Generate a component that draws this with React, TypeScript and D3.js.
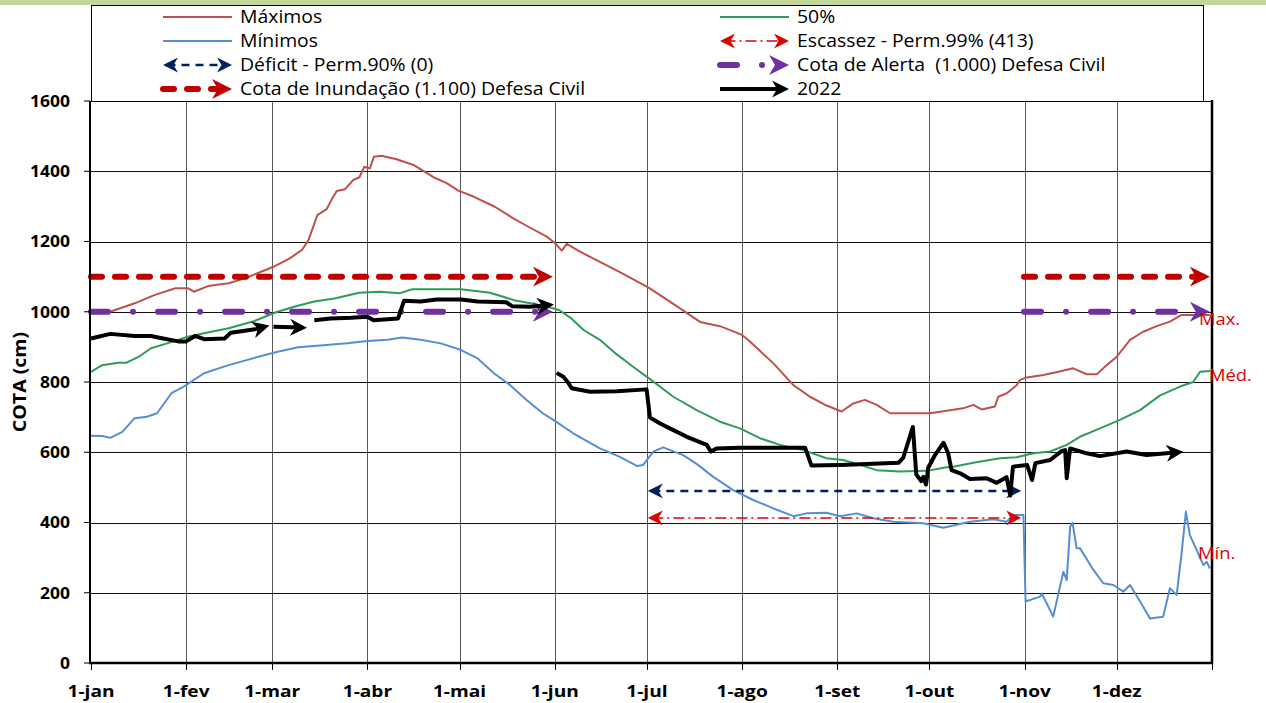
import React, { useEffect, useRef } from 'react';
import * as d3 from 'd3';

// x = day of year (0 = 1-jan), y = cota (cm)
const maximos: [number, number][] = [
  [0, 995], [6.2, 1000], [14.2, 1024], [20.8, 1048], [27.5, 1067], [31.5, 1067], [33.5, 1057], [38.1, 1073],
  [44.8, 1081], [50.1, 1095], [55.4, 1114], [59.4, 1128], [64.7, 1152], [68.7, 1176], [70.8, 1204], [73.7, 1275],
  [76.7, 1292], [78.4, 1320], [80, 1344], [82.7, 1349], [85.4, 1375], [87.4, 1383], [89, 1413], [90.8, 1408],
  [92.1, 1441], [94.6, 1444], [99.5, 1434], [105, 1418], [111.5, 1383], [115.8, 1366], [119.6, 1345], [124.5, 1328],
  [131.5, 1299], [137.5, 1266], [142.4, 1242], [148.4, 1214], [151.1, 1195], [153.3, 1174], [154.9, 1193],
  [159.2, 1171], [165.7, 1142], [172.2, 1113], [181.7, 1068], [190.2, 1019], [198.3, 971], [204.8, 959], [212, 934],
  [213.9, 920], [222.2, 853], [228.7, 791], [234.1, 758], [239.5, 733], [244.4, 716], [248.2, 739], [252, 749],
  [255.8, 735], [260.2, 711], [273.2, 711], [284, 725], [287.3, 735], [290, 722], [294.3, 730], [295.4, 758],
  [298.2, 768], [301.4, 791], [302.5, 806], [304.7, 813], [310.1, 820], [315, 829], [319.8, 839], [324.2, 822],
  [327.5, 822], [330.7, 848], [334, 872], [338.3, 920], [342.6, 943], [347, 959], [351.3, 972], [355.1, 991],
  [360, 991], [364.3, 991],
];

const mediana: [number, number][] = [
  [0, 829], [3.6, 848], [8.9, 855], [11.6, 855], [15.6, 872], [19.5, 896], [24.8, 910], [31.5, 929], [36.8, 939],
  [44.8, 953], [52.7, 972], [60.7, 1000], [66.1, 1014], [72.7, 1029], [79.3, 1038], [87.3, 1054], [94, 1057],
  [100.6, 1053], [104.6, 1064], [113.9, 1064], [120.5, 1064], [129.9, 1054], [137.8, 1033], [143.1, 1024],
  [148.5, 1014], [152.4, 1005], [156.4, 981], [160.4, 948], [165.7, 920], [171, 880], [176.4, 844], [183.1, 801],
  [189.6, 758], [197.2, 720], [204.8, 687], [211.3, 668], [217.8, 640], [224.3, 621], [231.9, 606], [239.5, 583],
  [244.9, 578], [250.4, 564], [255.8, 549], [263.4, 545], [272.1, 547], [278.6, 557], [280.8, 559], [287.3, 570],
  [296, 583], [301.4, 586], [306.8, 597], [312.3, 602], [317.7, 621], [322, 644], [328.5, 668], [335, 692],
  [341.6, 720], [348.1, 762], [354.6, 787], [358.9, 800], [361.1, 829], [364.4, 831],
];

const minimos: [number, number][] = [
  [0, 647], [3.6, 646], [6.3, 641], [10.2, 658], [14.2, 697], [18.2, 701], [21.5, 711], [26.2, 768], [30.2, 787],
  [36.8, 825], [44.8, 848], [55.4, 874], [60.8, 886], [67.4, 899], [76.7, 905], [83.4, 910], [90, 917], [96.6, 920],
  [101.3, 927], [107.3, 920], [113.9, 910], [120.5, 891], [125.9, 867], [131.2, 825], [136.5, 791], [141.8, 749],
  [147.1, 711], [151.4, 687], [157, 654], [165.7, 611], [172.2, 587], [177.7, 561], [179.8, 564], [183.1, 602],
  [186.3, 614], [192.8, 592], [197.2, 567], [202.6, 530], [209.1, 492], [215.6, 464], [222.2, 440], [228.7, 418],
  [233, 426], [239.5, 428], [243.9, 418], [249.3, 426], [254.7, 412], [261.2, 402], [271, 398], [277.5, 385],
  [286.2, 402], [293.8, 409], [298.1, 402], [300.3, 421], [303.6, 421], [304.3, 175], [309, 189], [309.6, 198],
  [313.3, 132], [316.6, 260], [317.7, 236], [318.8, 388], [319.6, 399], [320.9, 327], [322, 327], [326.4, 265],
  [329.6, 227], [332.9, 222], [336.1, 203], [338.3, 222], [341.6, 175], [344.8, 127], [349.1, 132], [351.3, 213],
  [353.5, 194], [355.1, 312], [356.5, 431], [357.8, 364], [362.2, 279], [363.3, 288], [364.3, 269],
];

// 2022, drawn in separate pieces, each ending with an arrow
const ano2022: [number, number][][] = [
  [[0, 924], [6.3, 937], [14.2, 931], [19.5, 931], [23.5, 924], [28.8, 915], [30.8, 915], [33.9, 931], [36.8, 922],
    [43.5, 924], [45.5, 940], [50.1, 946], [53.4, 950], [56.5, 957]],
  [[59.4, 957], [68.7, 955]],
  [[72.7, 976], [78, 981], [84.7, 983], [90, 986], [92, 976], [100, 981], [101.9, 1031], [107.3, 1029],
    [112.6, 1035], [120.5, 1035], [125.9, 1029], [135.2, 1027], [137.1, 1016], [143.1, 1014], [149.1, 1019]],
  [[151.6, 826], [153.8, 815], [155.4, 798], [156.5, 782], [162.5, 772], [171.2, 774], [180.9, 779], [182, 699],
    [185.3, 682], [189.6, 663], [194, 644], [200.5, 621], [201.8, 602], [203.7, 611], [211.3, 613], [222.2, 613],
    [232.5, 613], [234.6, 562], [243.9, 564], [254.7, 567], [262.9, 570], [264.5, 585], [267.6, 672], [268.7, 537],
    [270.3, 518], [271, 530], [271.9, 508], [272.6, 556], [274.8, 592], [277.6, 627], [279.1, 597], [280.2, 549],
    [283, 540], [286.2, 524], [291.6, 526], [294.9, 513], [298.1, 529], [299.3, 477], [300.2, 559], [304.8, 564],
    [306.4, 521], [307.5, 569], [312.3, 578], [316.1, 604], [317.2, 606], [317.7, 526], [318.8, 611], [324.2, 597],
    [328.5, 589], [337.2, 602], [343.7, 592], [350.2, 597], [354, 600]],
];

// reference levels and the day spans they cover
const cotaInundacao = 1100;
const cotaAlerta = 1000;
const cotaDeficit = 490;
const cotaEscassez = 413;
const defesaSpans: [number, number][] = [[0, 150.4], [303.8, 364.3]];
const estiagemSpan: [number, number] = [181.3, 302.9];

const monthDays = [0, 31, 59, 90, 120, 151, 181, 212, 243, 273, 304, 334];
const monthLabels = ['1-jan', '1-fev', '1-mar', '1-abr', '1-mai', '1-jun', '1-jul', '1-ago', '1-set', '1-out', '1-nov', '1-dez'];
const yTicks = [0, 200, 400, 600, 800, 1000, 1200, 1400, 1600];

const legendLeft = ['Máximos', 'Mínimos', 'Déficit - Perm.90% (0)', 'Cota de Inundação (1.100) Defesa Civil'];
const legendRight = ['50%', 'Escassez - Perm.99% (413)', 'Cota de Alerta  (1.000) Defesa Civil', '2022'];

const FONT = "'Open Sans', Lato, sans-serif";

type Style = {
  color: string;
  width: number;
  dash?: string;
  cap?: string;
  arrow?: string;
  arrowSize?: number;
  both?: boolean;
};

const S: Record<string, Style> = {
  max: { color: '#c0504d', width: 2 },
  min: { color: '#558ed5', width: 2 },
  med: { color: '#2f9b5c', width: 2 },
  deficit: { color: '#002060', width: 2.5, dash: '8 6', arrow: 'arNavy', arrowSize: 15, both: true },
  escassez: { color: '#e00000', width: 1.6, dash: '11 4 2 4', arrow: 'arRed2', arrowSize: 15, both: true },
  inund: { color: '#c00000', width: 6, dash: '11 13', cap: 'round', arrow: 'arRed', arrowSize: 20 },
  alerta: { color: '#7030a0', width: 6, dash: '17 25 0.01 25', cap: 'round', arrow: 'arPurple', arrowSize: 20 },
  y2022: { color: '#000000', width: 4, arrow: 'arBlack', arrowSize: 17 },
};

export default function App() {
  const svgRef = useRef<SVGSVGElement>(null);

  useEffect(() => {
    if (!svgRef.current) return;
    const svg = d3.select(svgRef.current);
    svg.selectAll('*').remove();

    const x = d3.scaleLinear().domain([0, 365]).range([91, 1212]);
    const y = d3.scaleLinear().domain([0, 1600]).range([663, 101]);

    const defs = svg.append('defs');
    const addMarker = (id: string, color: string, size: number) => {
      defs.append('marker')
        .attr('id', id)
        .attr('viewBox', '0 0 10 10')
        .attr('refX', 7)
        .attr('refY', 5)
        .attr('markerWidth', size)
        .attr('markerHeight', size)
        .attr('markerUnits', 'userSpaceOnUse')
        .attr('orient', 'auto-start-reverse')
        .append('path')
        .attr('d', 'M0,0 L10,5 L0,10 L3,5 Z')
        .attr('fill', color);
    };
    addMarker('arNavy', S.deficit.color, S.deficit.arrowSize!);
    addMarker('arRed2', S.escassez.color, S.escassez.arrowSize!);
    addMarker('arRed', S.inund.color, S.inund.arrowSize!);
    addMarker('arPurple', S.alerta.color, S.alerta.arrowSize!);
    addMarker('arBlack', S.y2022.color, S.y2022.arrowSize!);

    // text slightly stretched sideways, like the original
    const label = (g: any, tx: number, ty: number, str: string, size: number, opts: any = {}) => {
      const t = g.append('text')
        .attr('transform', `translate(${tx},${ty}) ${opts.rotate ? 'rotate(-90) ' : ''}scale(${opts.sx || 1.1},1)`)
        .attr('dy', '0.36em')
        .attr('text-anchor', opts.anchor || 'start')
        .attr('font-family', FONT)
        .attr('font-size', size)
        .attr('font-weight', opts.bold ? 700 : 400)
        .attr('fill', opts.fill || '#000')
        .style('white-space', 'pre')
        .text(str);
      return t;
    };

    // top band
    svg.append('rect').attr('x', 0).attr('y', 0).attr('width', 1266).attr('height', 5).attr('fill', '#c3d69b');

    // grid
    const grid = svg.append('g');
    monthDays.slice(1).forEach(d => {
      grid.append('line')
        .attr('x1', Math.round(x(d)) + 0.5).attr('x2', Math.round(x(d)) + 0.5)
        .attr('y1', 101).attr('y2', 663)
        .attr('stroke', '#5a5a5a').attr('stroke-width', 1);
    });
    yTicks.slice(1).forEach(v => {
      grid.append('line')
        .attr('x1', 91).attr('x2', 1212)
        .attr('y1', Math.round(y(v)) + 0.5).attr('y2', Math.round(y(v)) + 0.5)
        .attr('stroke', '#111').attr('stroke-width', 1);
    });

    const applyStyle = (sel: any, st: Style, withArrow: boolean) => {
      sel.attr('fill', 'none')
        .attr('stroke', st.color)
        .attr('stroke-width', st.width)
        .attr('stroke-linejoin', 'round')
        .attr('stroke-linecap', st.cap || 'butt');
      if (st.dash) sel.attr('stroke-dasharray', st.dash);
      if (withArrow && st.arrow) {
        sel.attr('marker-end', `url(#${st.arrow})`);
        if (st.both) sel.attr('marker-start', `url(#${st.arrow})`);
      }
      return sel;
    };

    const line = d3.line<[number, number]>().x(d => x(d[0])).y(d => y(d[1]));
    const plot = svg.append('g');

    applyStyle(plot.append('path').datum(maximos).attr('d', line), S.max, false);
    applyStyle(plot.append('path').datum(minimos).attr('d', line), S.min, false);
    applyStyle(plot.append('path').datum(mediana).attr('d', line), S.med, false);

    // horizontal reference lines; spans give arrow tips
    const refLine = (value: number, span: [number, number], st: Style) => {
      const ext = 0.3 * (st.arrowSize || 0);
      const x1 = x(span[0]) + (st.both ? ext : 0);
      const x2 = x(span[1]) - ext;
      applyStyle(
        plot.append('line').attr('x1', x1).attr('x2', x2).attr('y1', y(value)).attr('y2', y(value)),
        st, true);
    };
    refLine(cotaDeficit, estiagemSpan, S.deficit);
    refLine(cotaEscassez, estiagemSpan, S.escassez);
    defesaSpans.forEach(sp => refLine(cotaInundacao, sp, S.inund));
    defesaSpans.forEach(sp => refLine(cotaAlerta, sp, S.alerta));

    ano2022.forEach(seg => {
      applyStyle(plot.append('path').datum(seg).attr('d', line), S.y2022, true);
    });

    // frame and axes
    const frame = svg.append('g');
    frame.append('line').attr('x1', 91).attr('x2', 1212).attr('y1', 101.5).attr('y2', 101.5)
      .attr('stroke', '#000').attr('stroke-width', 1);
    frame.append('line').attr('x1', 90).attr('x2', 90).attr('y1', 101).attr('y2', 664)
      .attr('stroke', '#000').attr('stroke-width', 2);
    frame.append('line').attr('x1', 1212).attr('x2', 1212).attr('y1', 100).attr('y2', 664)
      .attr('stroke', '#000').attr('stroke-width', 2.5);
    frame.append('line').attr('x1', 89).attr('x2', 1213).attr('y1', 663).attr('y2', 663)
      .attr('stroke', '#000').attr('stroke-width', 2.5);

    yTicks.forEach(v => {
      frame.append('line').attr('x1', 84).attr('x2', 90).attr('y1', y(v)).attr('y2', y(v))
        .attr('stroke', '#000').attr('stroke-width', 1);
      label(frame, 70, y(v), String(v), 16.5, { anchor: 'end', bold: true, sx: 1.06 });
    });

    [...monthDays, 365].forEach(d => {
      frame.append('line').attr('x1', Math.round(x(d)) + 0.5).attr('x2', Math.round(x(d)) + 0.5)
        .attr('y1', 663).attr('y2', 670)
        .attr('stroke', '#000').attr('stroke-width', 1);
    });
    monthDays.forEach((d, i) => {
      label(frame, x(d), 691, monthLabels[i], 16.5, { anchor: 'middle', bold: true, sx: 1.16 });
    });

    label(frame, 20, 382, 'COTA (cm)', 17, { anchor: 'middle', bold: true, rotate: true, sx: 1.15 });

    // labels at the right edge
    const sideLabels: [string, number, number][] = [['Max.', 1199, 319], ['Méd.', 1209, 375], ['Mín.', 1198, 553]];
    sideLabels.forEach(([t, lx, ly]) => {
      label(frame, lx, ly, t, 17, { fill: '#e00000', sx: 1.08 });
    });

    // legend
    const lg = svg.append('g');
    lg.append('rect').attr('x', 91.5).attr('y', 5.5).attr('width', 1112).attr('height', 96)
      .attr('fill', '#fff').attr('stroke', '#000').attr('stroke-width', 1);

    const sample = (x1: number, x2: number, ly: number, st: Style) => {
      const ext = 0.3 * (st.arrowSize || 0);
      applyStyle(
        lg.append('line')
          .attr('x1', x1 + (st.both ? ext : 0)).attr('x2', st.arrow ? x2 - ext : x2)
          .attr('y1', ly).attr('y2', ly),
        st, true);
    };
    const rowsY = [17, 41, 65, 89];
    const leftStyles = [S.max, S.min, S.deficit, S.inund];
    const rightStyles = [S.med, S.escassez, S.alerta, S.y2022];
    legendLeft.forEach((t, i) => {
      sample(163, 232, rowsY[i], leftStyles[i]);
      label(lg, 240, rowsY[i], t, 17.5, { sx: 1.11 });
    });
    legendRight.forEach((t, i) => {
      sample(720, 789, rowsY[i], rightStyles[i]);
      label(lg, 797, rowsY[i], t, 17.5, { sx: 1.11 });
    });
  }, []);

  return (
    <div style={{ position: 'absolute', left: 0, top: 0, width: 1266, height: 703, background: '#fff' }}>
      <svg ref={svgRef} width={1266} height={703} style={{ display: 'block' }} />
    </div>
  );
}
